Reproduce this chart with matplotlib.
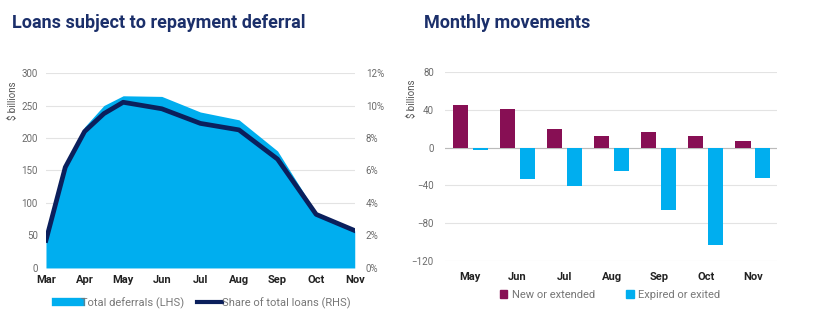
import matplotlib
matplotlib.use("Agg")
import matplotlib.pyplot as plt
from matplotlib.patches import Patch
from matplotlib.lines import Line2D
from matplotlib.ticker import FuncFormatter

# ---- Data ----
months_left = ["Mar", "Apr", "May", "Jun", "Jul", "Aug", "Sep", "Oct", "Nov"]
obs_pos = [0, 0.5, 1, 1.5, 2, 3, 4, 5, 6, 7, 8]          # observation dates (months since Mar)
total_deferrals = [54, 158, 217, 250, 265, 264, 240, 228, 180, 85, 57]   # $ billions (LHS)
share_total = [1.7, 6.2, 8.4, 9.5, 10.2, 9.8, 8.9, 8.5, 6.7, 3.3, 2.3]    # % (RHS)

months_right = ["May", "Jun", "Jul", "Aug", "Sep", "Oct", "Nov"]
new_extended = [44.5, 40.6, 19.8, 11.7, 16.3, 11.7, 6.4]
expired_exited = [-2.5, -33, -40.6, -24.7, -66, -103, -32.5]

# ---- Style ----
C_AREA = "#00AEEF"
C_LINE = "#0B1F5C"
C_PURPLE = "#870F54"
C_TITLE = "#1B2F6A"
C_TICK = "#6b6b6b"
C_GRID = "#e3e3e3"
FONT = ["Roboto", "DejaVu Sans"]
plt.rcParams["font.family"] = FONT

fig = plt.figure(figsize=(8.3, 3.26), dpi=100)
fig.patch.set_facecolor("white")

# ---------- Left chart ----------
ax = fig.add_axes([0.0554, 0.178, 0.372, 0.598])
ax2 = ax.twinx()
ax.fill_between(obs_pos, total_deferrals, 0, color=C_AREA, lw=0, zorder=2)
ax2.plot(obs_pos, share_total, color=C_LINE, lw=3.4, solid_joinstyle="round", zorder=3)
ax.set_xlim(0, 8)
ax.set_ylim(0, 300)
ax2.set_ylim(0, 12)
ax.set_yticks(range(0, 301, 50))
ax2.set_yticks(range(0, 13, 2))
ax2.yaxis.set_major_formatter(FuncFormatter(lambda v, p: f"{int(v)}%"))
ax.set_xticks(range(len(months_left)))
ax.set_xticklabels(months_left, fontweight="bold", fontsize=8, color="#222222")
ax.grid(axis="y", color=C_GRID, lw=0.8, zorder=0)
ax.set_axisbelow(True)
for a in (ax, ax2):
    for s in a.spines.values():
        s.set_visible(False)
    a.tick_params(length=0)
ax.tick_params(axis="y", labelsize=7, labelcolor=C_TICK, pad=6)
ax2.tick_params(axis="y", labelsize=7, labelcolor=C_TICK, pad=8)
ax.tick_params(axis="x", pad=5)
ax.set_ylabel("$ billions", fontsize=7, color="#555555", labelpad=1)
ax.yaxis.set_label_coords(-0.092, 0.86)
ax.set_zorder(ax2.get_zorder() - 1)
ax.patch.set_visible(False)

leg_handles = [Line2D([0], [0], color=C_AREA, lw=6),
               Line2D([0], [0], color=C_LINE, lw=3)]
fig.legend(leg_handles, ["Total deferrals (LHS)", "Share of total loans (RHS)"],
           loc="center", bbox_to_anchor=(0.245, 0.07), ncol=2, frameon=False,
           fontsize=8, labelcolor="#777777", handlelength=2.2, handletextpad=0.0,
           columnspacing=1.2)

fig.text(0.014, 0.93, "Loans subject to repayment deferral", fontsize=13,
         fontweight="bold", color=C_TITLE, va="center", ha="left")

# ---------- Right chart ----------
bx = fig.add_axes([0.536, 0.1994, 0.40, 0.580])
xs = list(range(len(months_right)))
w = 0.32
off = 0.21
bx.bar([x - off for x in xs], new_extended, width=w, color=C_PURPLE, zorder=2)
bx.bar([x + off for x in xs], expired_exited, width=w, color=C_AREA, zorder=2)
bx.axhline(0, color="#bbbbbb", lw=0.8, zorder=1)
bx.set_xlim(-0.54, 6.51)
bx.set_ylim(-120, 80)
bx.set_yticks(range(-120, 81, 40))
bx.set_xticks(xs)
bx.set_xticklabels(months_right, fontweight="bold", fontsize=8, color="#222222")
bx.grid(axis="y", color=C_GRID, lw=0.8, zorder=0)
bx.set_axisbelow(True)
for s in bx.spines.values():
    s.set_visible(False)
bx.tick_params(length=0)
bx.tick_params(axis="y", labelsize=7, labelcolor=C_TICK, pad=8)
bx.tick_params(axis="x", pad=8)
bx.set_ylabel("$ billions", fontsize=7, color="#555555")
bx.yaxis.set_label_coords(-0.085, 0.86)

leg2 = [Patch(color=C_PURPLE), Patch(color=C_AREA)]
fig.legend(leg2, ["New or extended", "Expired or exited"], loc="center",
           bbox_to_anchor=(0.735, 0.095), ncol=2, frameon=False, fontsize=8,
           labelcolor="#777777", handlelength=0.7, handleheight=0.7,
           handletextpad=0.4, columnspacing=2.8)

fig.text(0.511, 0.93, "Monthly movements", fontsize=13, fontweight="bold",
         color=C_TITLE, va="center", ha="left")

fig.savefig("out.png", dpi=100, facecolor="white")
